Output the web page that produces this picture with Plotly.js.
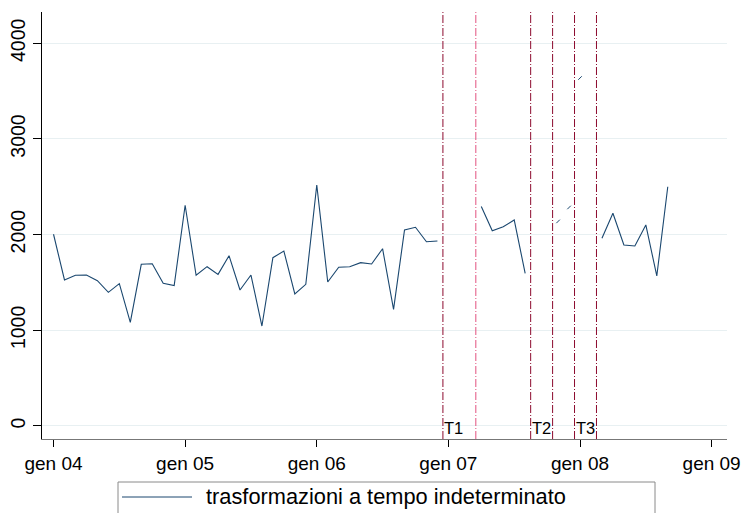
<!DOCTYPE html>
<html>
<head>
<meta charset="utf-8">
<script src="https://cdn.plot.ly/plotly-3.0.1.min.js"></script>
<style>html,body{margin:0;padding:0;background:#fff;}#chart{width:741px;height:513px;}</style>
</head>
<body>
<div id="chart"></div>
<script>
// ---- data (monthly, from gen 2004) ----
const startYear = 2004;
const v2004 = [2004, 1526, 1575, 1578, 1519, 1397, 1488, 1084, 1690, 1695, 1491, 1467];
const v2005 = [2307, 1575, 1665, 1585, 1780, 1421, 1578, 1045, 1759, 1829, 1380, 1481];
const v2006 = [2519, 1505, 1659, 1665, 1707, 1693, 1853, 1219, 2049, 2077, 1926, 1934];
const v2007 = [null, null, null, 2295, 2041, 2083, 2153, 1596, null, null, null, null];
const v2008 = [null, null, 1962, 2223, 1892, 1881, 2101, 1568, 2501];

// small isolated fragments visible in the gaps
const fragMonths = ['2007-01', '2007-11', '2007-12', '2008-01'];
const fragValues = [-180, 2138, 2284, 3637];

// event markers (drawn half-way through the month)
const eventMonths = ['2006-12', '2007-03', '2007-08', '2007-10', '2007-12', '2008-02'];
const eventLabels = ['T1', '', 'T2', '', 'T3', ''];
const eventColors = ['#8c0a2e', '#e2527f', '#8c0a2e', '#8c0a2e', '#8c0a2e', '#8c0a2e'];

const tickVals = [0, 12, 24, 36, 48, 60];
const tickText = ['gen 04', 'gen 05', 'gen 06', 'gen 07', 'gen 08', 'gen 09'];
const yTicks = [0, 1000, 2000, 3000, 4000];
const seriesName = 'trasformazioni a tempo indeterminato';

// ---- build ----
function monthIndex(s) {
  const [y, m] = s.split('-').map(Number);
  return (y - startYear) * 12 + (m - 1);
}
const values = [].concat(v2004, v2005, v2006, v2007, v2008);
const xs = values.map((_, i) => i);

const W = 741, H = 513;
const margin = {l: 42, r: 14, t: 12, b: 74};
const pw = W - margin.l - margin.r, ph = H - margin.t - margin.b;
const px = x => (x - margin.l) / pw;
const py = y => (H - margin.b - y) / ph;

const lineColor = '#1a476f';
const FONT = '"Liberation Sans", Arial, sans-serif';

const traces = [
  {
    x: xs, y: values, type: 'scatter', mode: 'lines',
    line: {color: lineColor, width: 1.1},
    connectgaps: false, showlegend: false, hoverinfo: 'skip'
  },
  {
    x: fragMonths.map(monthIndex), y: fragValues, type: 'scatter', mode: 'markers',
    marker: {symbol: 'line-ne-open', size: 3.5, color: lineColor, line: {color: lineColor, width: 1}},
    cliponaxis: false, showlegend: false, hoverinfo: 'skip'
  }
];

const shapes = [];
const annotations = [];
eventMonths.forEach((m, i) => {
  const xv = monthIndex(m) + 0.5;
  shapes.push({
    type: 'line', xref: 'x', yref: 'paper', x0: xv, x1: xv, y0: 0, y1: 1,
    line: {color: eventColors[i], width: 1, dash: '8px,2px,1px,2px'}, layer: 'above'
  });
  if (eventLabels[i]) {
    annotations.push({
      x: xv, y: 0, xref: 'x', yref: 'y', text: eventLabels[i], showarrow: false,
      xanchor: 'left', yanchor: 'middle', xshift: -1, yshift: -2,
      font: {family: FONT, size: 16.5, color: '#000'}
    });
  }
});

// legend box (Stata style)
shapes.push({
  type: 'rect', xref: 'paper', yref: 'paper',
  x0: px(118), x1: px(655), y0: py(482), y1: py(525),
  line: {color: '#8a8a8a', width: 1}, fillcolor: 'rgba(0,0,0,0)', layer: 'above'
});
shapes.push({
  type: 'line', xref: 'paper', yref: 'paper',
  x0: px(122), x1: px(192), y0: py(497), y1: py(497),
  line: {color: lineColor, width: 1}
});
annotations.push({
  xref: 'paper', yref: 'paper', x: px(204), y: py(497),
  xanchor: 'left', yanchor: 'middle', showarrow: false, text: seriesName,
  font: {family: FONT, size: 21.8, color: '#000'}
});

const layout = {
  width: W, height: H, margin: margin,
  paper_bgcolor: '#fff', plot_bgcolor: '#fff',
  font: {family: FONT, size: 19, color: '#000'},
  showlegend: false,
  xaxis: {
    range: [-1.05, 61.4], tickvals: tickVals, ticktext: tickText,
    ticks: 'outside', ticklen: 7, tickcolor: '#000', tickwidth: 1,
    showline: true, linecolor: '#777', linewidth: 1.3,
    showgrid: false, zeroline: false, ticklabeloverflow: 'allow',
    tickfont: {family: FONT, size: 19, color: '#000'}
  },
  yaxis: {
    range: [-136, 4327], tickvals: yTicks, tickangle: -90,
    ticks: 'outside', ticklen: 8, tickcolor: '#000', tickwidth: 1,
    showline: true, linecolor: '#000', linewidth: 1,
    showgrid: true, gridcolor: '#e8f0f2', gridwidth: 1, zeroline: false,
    tickfont: {family: FONT, size: 19.5, color: '#000'}
  },
  shapes: shapes,
  annotations: annotations
};

Plotly.newPlot('chart', traces, layout, {staticPlot: true, displayModeBar: false});
</script>
</body>
</html>
